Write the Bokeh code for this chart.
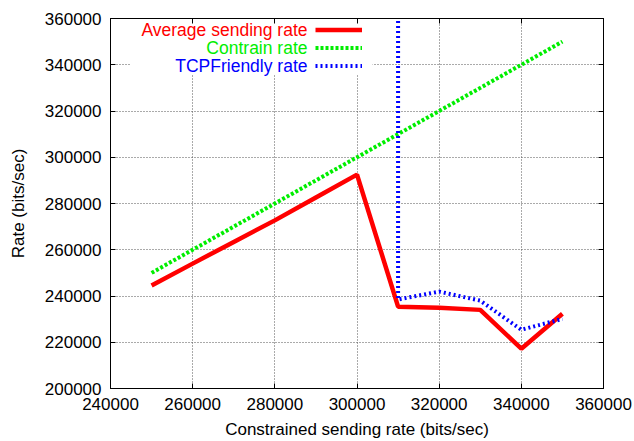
from bokeh.plotting import figure
from bokeh.models import (Range1d, FixedTicker, BasicTickFormatter, LinearAxis, Legend,
                          LegendItem, Label, BoxAnnotation, CustomJSTickFormatter)
from bokeh.embed import file_html
from bokeh.resources import INLINE

# ---- data ----
x_vals = [250000, 260000, 270000, 280000, 290000, 300000, 310000, 320000, 330000, 340000, 350000]
avg_rate = [244500, 254000, 263400, 272700, 282600, 292500, 235400, 234900, 234000, 217200, 232300]
constrain_rate = [250000, 260000, 270000, 280000, 290000, 300000, 310000, 320000, 330000, 340000, 350000]
tcp_x = [310000, 310000, 320000, 330000, 340000, 350000]
tcp_rate = [400000, 238500, 241900, 238000, 225400, 230100]

x_ticks = [240000, 260000, 280000, 300000, 320000, 340000, 360000]
y_ticks = [200000, 220000, 240000, 260000, 280000, 300000, 320000, 340000, 360000]
series_names = ["Average sending rate", "Contrain rate", "TCPFriendly rate"]
series_colors = ["#ff0000", "#00ee00", "#0000ff"]

FONT = "Liberation Sans"
FS = "17px"

W, H = 634, 441
BL, BR, BT, BB = 110, 31, 18, 53
FH = H - BT - BB

p = figure(width=W, height=H, output_backend="svg", toolbar_location=None,
           x_range=Range1d(240000, 360000), y_range=Range1d(200000, 360000),
           min_border_left=BL, min_border_right=BR, min_border_top=BT, min_border_bottom=BB)
p.outline_line_color = "black"
p.outline_line_width = 1
p.background_fill_color = "white"

for ax in (p.xaxis[0], p.yaxis[0]):
    ax.major_label_text_font = FONT
    ax.major_label_text_font_size = FS
    ax.major_label_text_color = "black"
    ax.axis_label_text_font = FONT
    ax.axis_label_text_font_size = FS
    ax.axis_label_text_font_style = "normal"
    ax.axis_label_text_color = "black"
    ax.formatter = BasicTickFormatter(use_scientific=False)
    ax.major_tick_in = 5
    ax.major_tick_out = 0
    ax.minor_tick_line_color = None
    ax.axis_line_color = "black"
    ax.major_tick_line_color = "black"

p.xaxis.ticker = FixedTicker(ticks=x_ticks)
p.yaxis.ticker = FixedTicker(ticks=y_ticks)
p.xaxis.axis_label = "Constrained sending rate (bits/sec)"
p.yaxis.axis_label = "Rate (bits/sec)"
p.xaxis.major_label_standoff = 9
p.xaxis.axis_label_standoff = 7
p.yaxis.major_label_standoff = 9
p.yaxis.axis_label_standoff = 14

# mirror axes (ticks only, no labels)
for loc, tick in (("right", y_ticks), ("above", x_ticks)):
    a = LinearAxis(ticker=FixedTicker(ticks=tick),
                   formatter=CustomJSTickFormatter(code="return ''"),
                   major_tick_in=5, major_tick_out=0, minor_tick_line_color=None,
                   major_label_standoff=0, axis_line_color="black", major_tick_line_color="black")
    p.add_layout(a, loc)

p.xgrid.ticker = FixedTicker(ticks=x_ticks)
p.ygrid.ticker = FixedTicker(ticks=y_ticks)
for g in (p.xgrid[0], p.ygrid[0]):
    g.grid_line_color = "#555555"
    g.grid_line_dash = "1 2"
    g.grid_line_width = 1

# white key box covering the grid
p.add_layout(BoxAnnotation(left=20, right=262, top=FH - 1, bottom=FH - 56,
                           left_units="screen", right_units="screen",
                           top_units="screen", bottom_units="screen",
                           fill_color="white", fill_alpha=1, line_color=None, level="underlay"))

r1 = p.line(x_vals, avg_rate, line_color=series_colors[0], line_width=4.5)
r2 = p.line(x_vals, constrain_rate, line_color=series_colors[1], line_width=4, line_dash="3 2")
r3 = p.line(tcp_x, tcp_rate, line_color=series_colors[2], line_width=4, line_dash="2 3")

# key samples (glyph only); location is the bottom-left corner of the key
legend = Legend(items=[LegendItem(label=" ", renderers=[r]) for r in (r1, r2, r3)],
                location=(205, FH - 3 - 53), glyph_width=47, glyph_height=17,
                label_width=0, label_height=17, label_standoff=0, label_text_font_size=FS,
                spacing=1, padding=0, margin=0,
                background_fill_alpha=0, border_line_alpha=0)
p.add_layout(legend, "center")

for i, (name, col) in enumerate(zip(series_names, series_colors)):
    p.add_layout(Label(x=197, y=FH - 11.5 - 18 * i, x_units="screen", y_units="screen",
                       text=name, text_color=col, text_font=FONT, text_font_size="17.5px",
                       text_align="right", text_baseline="middle"))

open("out.html", "w").write(file_html(p, INLINE))
